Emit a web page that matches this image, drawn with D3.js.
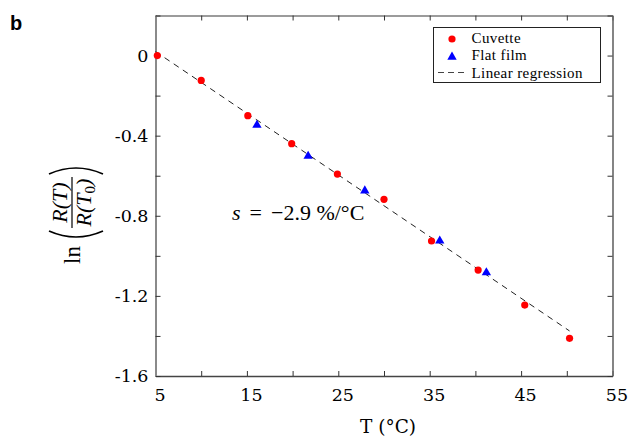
<!DOCTYPE html>
<html>
<head>
<meta charset="utf-8">
<script src="https://cdn.jsdelivr.net/npm/d3@7"></script>
<style>
  html, body { margin: 0; padding: 0; background: #fff; }
  svg { display: block; }
</style>
</head>
<body>
<svg id="chart" width="628" height="440"></svg>
<script>
// ---- data ----
const cuvetteT   = [5.2, 10.0, 15.1, 19.9, 24.9, 30.0, 35.2, 40.3, 45.4, 50.3];
const cuvetteLnR = [0.0, -0.124, -0.300, -0.440, -0.592, -0.718, -0.926, -1.071, -1.246, -1.412];
const filmT      = [16.1, 21.7, 27.9, 36.1, 41.2];
const filmLnR    = [-0.347, -0.502, -0.675, -0.925, -1.084];
const fitT       = [5.0, 50.3];
const fitLnR     = [0.02, -1.375];

const xTickValues = [5, 10, 15, 20, 25, 30, 35, 40, 45, 50, 55];
const xTickLabels = ["5", "", "15", "", "25", "", "35", "", "45", "", "55"];
const yTickValues = [0.2, 0, -0.2, -0.4, -0.6, -0.8, -1.0, -1.2, -1.4, -1.6];
const yTickLabels = ["", "0", "", "-0.4", "", "-0.8", "", "-1.2", "", "-1.6"];

const legendLabels = ["Cuvette", "Flat film", "Linear regression"];
const slopeParts = ["=", "\u22122.9 %/°C"];

// ---- layout ----
const svg = d3.select("#chart");
const L = 155.5, R = 612.5, T = 15.5, B = 376;
const x = d3.scaleLinear().domain([5, 55]).range([L, R]);
const y = d3.scaleLinear().domain([-1.6, 0.2]).range([B, T]);

const tickFont = "DejaVu Serif, serif";

// bottom axis
const gB = svg.append("g").attr("transform", `translate(0,${B})`)
  .call(d3.axisBottom(x).tickValues(xTickValues).tickSizeInner(-5).tickSizeOuter(0).tickPadding(13)
    .tickFormat((d, i) => xTickLabels[i]));
// top axis
const gT = svg.append("g").attr("transform", `translate(0,${T})`)
  .call(d3.axisTop(x).tickValues(xTickValues).tickSizeInner(-5).tickSizeOuter(0).tickFormat(""));
// left axis
const gL = svg.append("g").attr("transform", `translate(${L},0)`)
  .call(d3.axisLeft(y).tickValues(yTickValues).tickSizeInner(-5).tickSizeOuter(0).tickPadding(7)
    .tickFormat((d, i) => yTickLabels[i]));
// right axis
const gR = svg.append("g").attr("transform", `translate(${R},0)`)
  .call(d3.axisRight(y).tickValues(yTickValues).tickSizeInner(-5).tickSizeOuter(0).tickFormat(""));

[gB, gT, gL, gR].forEach(g => {
  g.selectAll("text").attr("font-family", tickFont).attr("font-size", 17.5).attr("fill", "#000");
  g.selectAll(".tick line").attr("stroke", "#333").attr("stroke-width", 1);
});
gB.selectAll("text").attr("dx", 4);
gL.select(".domain").attr("stroke", "#8a8a8a").attr("stroke-width", 2);
gT.select(".domain").attr("stroke", "#7a7a7a").attr("stroke-width", 1.6);
gR.select(".domain").attr("stroke", "#666").attr("stroke-width", 1.6);
gB.select(".domain").attr("stroke", "#444").attr("stroke-width", 1.5);

// regression line
const fit = fitT.map((t, i) => [t, fitLnR[i]]);
svg.append("path")
  .datum(fit)
  .attr("d", d3.line().x(d => x(d[0])).y(d => y(d[1])))
  .attr("fill", "none").attr("stroke", "#222").attr("stroke-width", 1)
  .attr("stroke-dasharray", "6,5");

// cuvette points
svg.append("g").selectAll("circle")
  .data(cuvetteT.map((t, i) => [t, cuvetteLnR[i]]))
  .join("circle")
  .attr("cx", d => x(d[0])).attr("cy", d => y(d[1])).attr("r", 3.6)
  .attr("fill", "#ff0000");

// flat film points
const tri = d3.symbol().type(d3.symbolTriangle).size(38);
svg.append("g").selectAll("path")
  .data(filmT.map((t, i) => [t, filmLnR[i]]))
  .join("path")
  .attr("transform", d => `translate(${x(d[0])},${y(d[1])})`)
  .attr("d", tri).attr("fill", "#0000ff");

// slope annotation
const ann = svg.append("text").attr("x", 232).attr("y", 220)
  .attr("font-family", "Liberation Serif, serif").attr("font-size", 22).attr("fill", "#000");
ann.append("tspan").attr("font-style", "italic").text("s");
ann.append("tspan").attr("dx", 9).text(slopeParts[0]);
ann.append("tspan").attr("dx", 9).text(slopeParts[1]);

// legend
const lg = svg.append("g");
lg.append("rect").attr("x", 433.5).attr("y", 27.5).attr("width", 167).attr("height", 55)
  .attr("fill", "#fff").attr("stroke", "#222").attr("stroke-width", 1);
lg.append("circle").attr("cx", 452).attr("cy", 39).attr("r", 3.6).attr("fill", "#ff0000");
lg.append("path").attr("transform", "translate(452,57)").attr("d", tri).attr("fill", "#0000ff");
lg.append("line").attr("x1", 438).attr("x2", 466).attr("y1", 72.5).attr("y2", 72.5)
  .attr("stroke", "#444").attr("stroke-width", 1).attr("stroke-dasharray", "6,4");
const lgY = [43, 60, 77.5];
legendLabels.forEach((t, i) => {
  lg.append("text").attr("x", 471.5).attr("y", lgY[i])
    .attr("font-family", "Liberation Serif, serif").attr("font-size", 15)
    .attr("letter-spacing", 0.4).attr("fill", "#000").text(t);
});

// x axis title
svg.append("text").attr("x", 388).attr("y", 433).attr("text-anchor", "middle")
  .attr("font-family", tickFont).attr("font-size", 18.5).attr("fill", "#000").text("T (°C)");

// y axis title: ln( R(T) / R(T0) ), rotated
const yl = svg.append("g").attr("transform", "translate(72,264) rotate(-90)");
yl.append("text").attr("x", 0).attr("y", 8)
  .attr("font-family", "Liberation Serif, serif").attr("font-size", 23).attr("fill", "#000").text("ln");
yl.append("path").attr("d", "M33,-23 Q21,4 33,31").attr("fill", "none").attr("stroke", "#000").attr("stroke-width", 1.7);
yl.append("path").attr("d", "M90,-23 Q102,4 90,31").attr("fill", "none").attr("stroke", "#000").attr("stroke-width", 1.7);
yl.append("line").attr("x1", 36).attr("x2", 87).attr("y1", 0).attr("y2", 0).attr("stroke", "#000").attr("stroke-width", 1.2);
const num = yl.append("text").attr("x", 61.5).attr("y", -5).attr("text-anchor", "middle")
  .attr("font-family", "Liberation Serif, serif").attr("font-size", 22).attr("font-style", "italic").attr("fill", "#000");
num.text("R(T)");
const den = yl.append("text").attr("x", 61.5).attr("y", 19).attr("text-anchor", "middle")
  .attr("font-family", "Liberation Serif, serif").attr("font-size", 22).attr("font-style", "italic").attr("fill", "#000");
den.append("tspan").text("R(T");
den.append("tspan").attr("font-size", 15).attr("font-style", "normal").attr("dy", 4).text("0");
den.append("tspan").attr("dy", -4).text(")");

// panel label
svg.append("text").attr("x", 10).attr("y", 30)
  .attr("font-family", "Liberation Sans, Arial, sans-serif").attr("font-weight", "bold").attr("font-size", 20)
  .attr("fill", "#000").text("b");
</script>
</body>
</html>
